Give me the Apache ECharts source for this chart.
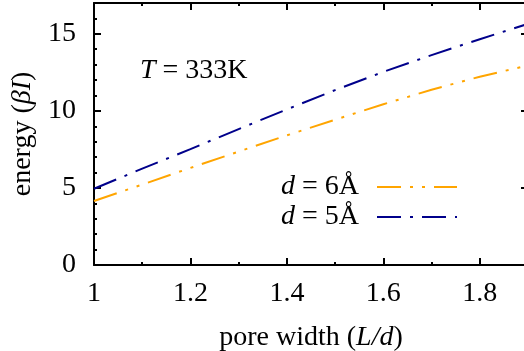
<!DOCTYPE html>
<html><head><meta charset="utf-8">
<script src="https://cdn.jsdelivr.net/npm/echarts@6/dist/echarts.min.js"></script>
<style>html,body{margin:0;padding:0;background:#fff}#c{width:524px;height:351px}</style>
</head><body><div id="c"></div>
<script>
const xValues = [1.0, 1.1, 1.2, 1.3, 1.4, 1.5, 1.6, 1.7, 1.8, 1.9];
const d6Values = [4.15, 5.22, 6.30, 7.36, 8.41, 9.43, 10.43, 11.37, 12.22, 12.95];
const d5Values = [4.95, 6.25, 7.52, 8.82, 10.10, 11.35, 12.53, 13.62, 14.65, 15.65];
const seriesNames = ['d6', 'd5'];
const legendLabels = {d6: '{i|d}{n| = 6Å}', d5: '{i|d}{n| = 5Å}'};
const annotation = '{i|T}{n| = 333K}';

const FONT = 'Liberation Serif';
const FS = 28;
const chart = echarts.init(document.getElementById('c'), null, {renderer: 'canvas'});
const axisCommon = {
  axisLine: {show: true, onZero: false, lineStyle: {color: '#000', width: 2}},
  axisTick: {show: true, inside: true, length: 7, lineStyle: {color: '#000', width: 2}},
  minorTick: {show: true, length: 3, lineStyle: {color: '#000', width: 2}},
  splitLine: {show: false}
};
const richI = {
  i: {fontFamily: FONT, fontSize: FS, fontStyle: 'italic', fontWeight: 'normal', color: '#000'},
  n: {fontFamily: FONT, fontSize: FS, fontWeight: 'normal', color: '#000'}
};
chart.setOption({
  animation: false,
  grid: {left: 94, top: 3, right: -4, bottom: 86, containLabel: false, outerBoundsMode: 'none'},
  title: {
    text: annotation, left: 140, top: 57, padding: 0,
    textStyle: {fontFamily: FONT, fontSize: FS, fontWeight: 'normal', color: '#000', rich: richI}
  },
  xAxis: [
    Object.assign({}, axisCommon, {
      type: 'value', min: 1, max: 1.9, interval: 0.2,
      minorTick: Object.assign({}, axisCommon.minorTick, {splitNumber: 2}),
      axisLabel: {fontFamily: FONT, fontSize: FS, color: '#000', margin: 15, showMaxLabel: false,
        formatter: v => (Math.round(v * 10) / 10).toString()},
      name: '{n|pore width (}{i|L/d}{n|)}', nameLocation: 'middle', nameGap: 59,
      nameTextStyle: {fontFamily: FONT, fontSize: FS, color: '#000', rich: richI}
    }),
    Object.assign({}, axisCommon, {
      type: 'value', min: 1, max: 1.9, interval: 0.2, position: 'top',
      minorTick: Object.assign({}, axisCommon.minorTick, {splitNumber: 2}),
      axisLabel: {show: false}
    })
  ],
  yAxis: [
    Object.assign({}, axisCommon, {
      type: 'value', min: 0, max: 17, interval: 5,
      minorTick: Object.assign({}, axisCommon.minorTick, {splitNumber: 5}),
      axisLabel: {fontFamily: FONT, fontSize: FS, color: '#000', margin: 18, showMaxLabel: false},
      name: '{n|energy (}{i|βI}{n|)}', nameLocation: 'middle', nameGap: 53, nameRotate: 90,
      nameTextStyle: {fontFamily: FONT, fontSize: FS, color: '#000', rich: richI}
    }),
    Object.assign({}, axisCommon, {
      type: 'value', min: 0, max: 17, interval: 5, position: 'right',
      minorTick: Object.assign({}, axisCommon.minorTick, {splitNumber: 5}),
      axisLabel: {show: false}
    })
  ],
  legend: {
    orient: 'vertical', right: 61, top: 168, align: 'right',
    itemWidth: 80, itemHeight: 14, itemGap: 2,
    data: seriesNames,
    formatter: n => legendLabels[n],
    itemStyle: {opacity: 0},
    textStyle: {fontFamily: FONT, fontSize: FS, color: '#000', padding: [0, 13, 0, 0], rich: richI}
  },
  series: [
    {name: 'd6', type: 'line', showSymbol: false, symbol: 'none', smooth: false,
     data: xValues.map((x, i) => [x, d6Values[i]]),
     lineStyle: {color: '#FFA500', width: 2, type: [24, 9, 3, 9, 3, 9]}, itemStyle: {color: '#FFA500'}},
    {name: 'd5', type: 'line', showSymbol: false, symbol: 'none', smooth: false,
     data: xValues.map((x, i) => [x, d5Values[i]]),
     lineStyle: {color: '#00008B', width: 2, type: [24, 9, 3, 9]}, itemStyle: {color: '#00008B'}}
  ]
});
</script></body></html>
